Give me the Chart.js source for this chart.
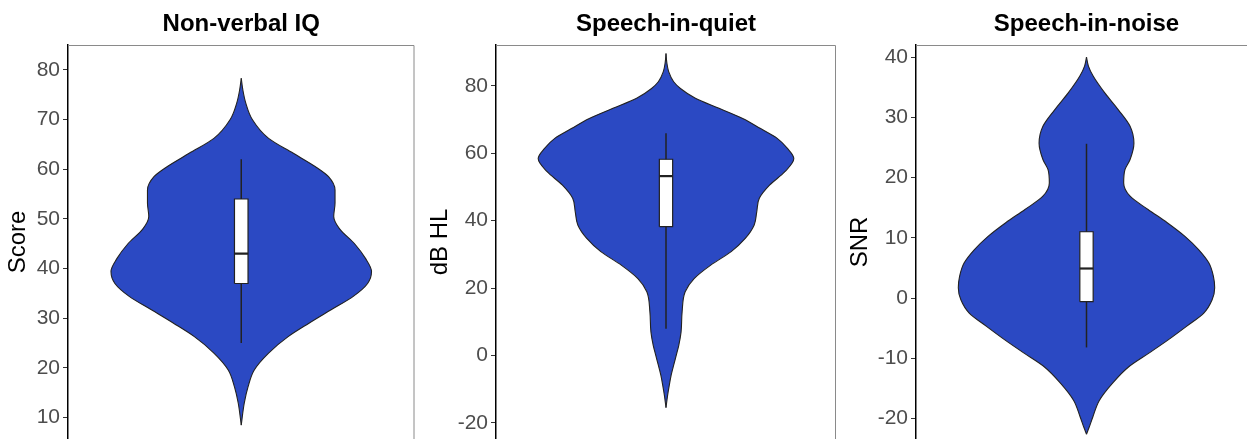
<!DOCTYPE html>
<html>
<head>
<meta charset="utf-8">
<script src="https://cdn.jsdelivr.net/npm/chart.js@4.4.1/dist/chart.umd.min.js"></script>
<style>
  html, body { margin: 0; padding: 0; background: #fff; overflow: hidden; }
  body { width: 1247px; height: 439px; position: relative; }
  canvas { position: absolute; top: 0; }
</style>
</head>
<body>
<canvas id="iq" width="416" height="439" style="left:0px"></canvas>
<canvas id="quiet" width="422" height="439" style="left:416px"></canvas>
<canvas id="noise" width="423" height="439" style="left:836px"></canvas>
<script>
const titles = ['Non-verbal IQ', 'Speech-in-quiet', 'Speech-in-noise'];
const axisTitles = ['Score', 'dB HL', 'SNR'];

// violin outlines: value on the y axis and relative half-width (1 = widest)
const iqValues  = [8.5, 12.9, 16.2, 19.6, 23.0, 26.3, 29.0, 31.7, 34.4, 37.0, 39.4, 42.0, 45.0, 48.0, 50.5, 53.2, 55.8, 58.5, 60.5, 63.2, 66.2, 70.0, 73.3, 76.0, 78.3];
const iqDensity = [0, 0.023, 0.052, 0.10, 0.21, 0.36, 0.52, 0.69, 0.86, 0.97, 1.0, 0.955, 0.87, 0.755, 0.71, 0.72, 0.72, 0.67, 0.57, 0.40, 0.21, 0.085, 0.035, 0.012, 0];

const quietValues  = [-15.5, -12.0, -8.8, -5.9, -2.9, 0, 3.0, 7.0, 12.9, 18.9, 22.8, 26.8, 30.8, 34.7, 38.7, 42.6, 46.6, 50.5, 54.5, 58.4, 61.4, 64.4, 67.3, 70.3, 73.3, 76.3, 79.2, 81.2, 84.2, 87.0, 89.6];
const quietDensity = [0, 0.012, 0.026, 0.04, 0.06, 0.08, 0.10, 0.118, 0.126, 0.15, 0.22, 0.35, 0.51, 0.62, 0.69, 0.71, 0.73, 0.81, 0.93, 1.0, 0.95, 0.87, 0.74, 0.60, 0.415, 0.23, 0.113, 0.06, 0.021, 0.006, 0];

const noiseValues  = [-22.6, -21.5, -19.7, -17.0, -14.2, -11.4, -9.1, -6.9, -4.7, -2.5, -0.3, 1.7, 3.6, 5.8, 8.0, 10.2, 12.5, 14.7, 16.9, 19.1, 21.3, 23.0, 25.7, 28.5, 31.2, 34.0, 36.8, 38.5, 40.0];
const noiseDensity = [0, 0.02, 0.05, 0.10, 0.20, 0.33, 0.49, 0.64, 0.78, 0.915, 0.98, 1.0, 0.99, 0.955, 0.876, 0.77, 0.63, 0.48, 0.34, 0.29, 0.30, 0.34, 0.37, 0.34, 0.25, 0.144, 0.053, 0.015, 0];

// lower whisker, Q1, median, Q3, upper whisker
const iqBox    = [25, 37, 43, 54, 62];
const quietBox = [7.9, 38.2, 53.2, 58.2, 65.9];
const noiseBox = [-8.2, -0.6, 4.9, 11.0, 25.6];

const yRanges = [[5.7, 85.0], [-24.8, 92.1], [-23.4, 42.0]];
const tickSteps = [10, 20, 10];

const violinBlue = '#2b49c3';
const dark = '#222222';

Chart.defaults.font.family = "'Liberation Sans', Arial, Helvetica, sans-serif";

const panelBorder = {
    id: 'panelBorder',
    beforeDatasetsDraw(chart) {
        const { ctx, chartArea: a } = chart;
        ctx.save();
        ctx.strokeStyle = '#8a8a8a';
        ctx.lineWidth = 1;
        ctx.beginPath();
        ctx.moveTo(a.left, a.top + 0.5);
        ctx.lineTo(a.right - 0.5, a.top + 0.5);
        ctx.lineTo(a.right - 0.5, a.bottom);
        ctx.stroke();
        ctx.restore();
    }
};

function makePanel(id, i, values, density, box, axisWidth, padRight, titlePad) {
    const [lo, q1, med, q3, hi] = box;
    const bw = 0.052;
    const side = (sign) => values.map((v, k) => ({ x: sign * density[k], y: v }));
    const seg = (pts, extra) => Object.assign({
        data: pts, borderColor: dark, borderWidth: 1.2, pointRadius: 0, fill: false
    }, extra);

    new Chart(document.getElementById(id), {
        type: 'line',
        data: {
            datasets: [
                seg([{ x: -bw, y: med }, { x: bw, y: med }], { borderWidth: 2.2 }),
                seg([{ x: -bw, y: q1 }, { x: -bw, y: q3 }, { x: bw, y: q3 }, { x: bw, y: q1 }, { x: -bw, y: q1 }]),
                seg([{ x: -bw, y: q1 }, { x: -bw, y: q3 }], { borderWidth: 0, fill: '+1', backgroundColor: '#ffffff' }),
                seg([{ x: bw, y: q1 }, { x: bw, y: q3 }], { borderWidth: 0 }),
                seg([{ x: 0, y: lo }, { x: 0, y: q1 }], { borderWidth: 1.5 }),
                seg([{ x: 0, y: q3 }, { x: 0, y: hi }], { borderWidth: 1.5 }),
                seg(side(-1), { borderWidth: 1.1, fill: '+1', backgroundColor: violinBlue, cubicInterpolationMode: 'monotone' }),
                seg(side(1), { borderWidth: 1.1, cubicInterpolationMode: 'monotone' })
            ]
        },
        options: {
            responsive: false,
            animation: false,
            events: [],
            indexAxis: 'y',
            layout: { padding: { left: 0, right: padRight, top: 0, bottom: 0 } },
            plugins: {
                legend: { display: false },
                tooltip: { enabled: false },
                filler: { drawTime: 'beforeDatasetsDraw' },
                title: {
                    display: true,
                    text: titles[i],
                    fullSize: false,
                    color: '#000',
                    font: { size: 24, weight: 'bold' },
                    padding: { top: 10, bottom: 6.2 }
                }
            },
            scales: {
                x: { type: 'linear', min: -1.33, max: 1.33, display: false },
                y: {
                    type: 'linear',
                    min: yRanges[i][0],
                    max: yRanges[i][1],
                    afterFit: (scale) => {
                        scale.width = axisWidth;
                        scale.paddingTop = 0;
                        scale.paddingBottom = 0;
                    },
                    ticks: {
                        stepSize: tickSteps[i],
                        includeBounds: false,
                        autoSkip: false,
                        padding: 3,
                        color: '#4d4d4d',
                        font: { size: 21 }
                    },
                    grid: {
                        display: true,
                        drawOnChartArea: false,
                        drawTicks: true,
                        tickLength: 5,
                        tickColor: '#333333',
                        tickWidth: 1
                    },
                    border: { display: true, color: '#000', width: 1.5 },
                    title: {
                        display: true,
                        text: axisTitles[i],
                        color: '#000',
                        font: { size: 24 },
                        padding: { top: titlePad, bottom: 0 }
                    }
                }
            }
        },
        plugins: [panelBorder]
    });
}

makePanel('iq', 0, iqValues, iqDensity, iqBox, 68, 1.5, 4);
makePanel('quiet', 1, quietValues, quietDensity, quietBox, 80, 2, 10);
makePanel('noise', 2, noiseValues, noiseDensity, noiseBox, 80, 2, 10);
</script>
</body>
</html>
